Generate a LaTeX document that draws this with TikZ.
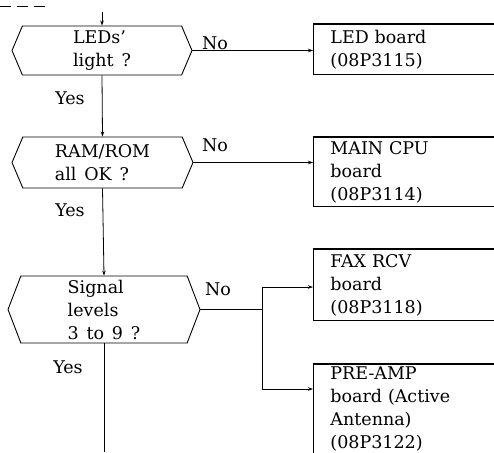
\documentclass[tikz,border=0pt]{standalone}
\usepackage{fontspec}
\setmainfont{DejaVu Serif}[WordSpace=1.4]
\usetikzlibrary{shapes.symbols,arrows.meta}
\begin{document}
\begin{tikzpicture}[x=1pt,y=-1pt,
  every node/.style={font=\fontsize{17.5}{23}\selectfont},
  hexbox/.style={draw, line width=0.9pt, signal, signal to=east and west, signal pointer angle=#1, align=left, inner sep=0pt},
  board/.style={draw, line width=0.9pt, anchor=north west, text width=200pt, inner xsep=17pt, inner ysep=0pt, align=left},
  conn/.style={line width=0.8pt},
  arr/.style={conn, -{Stealth[length=5pt,width=3.5pt]}},
  lbl/.style={inner sep=0pt},
  topline/.style={line width=2pt}
]
\clip (0,0) rectangle (494,452);

% decision hexagons
\node[hexbox=134, minimum width=180pt, minimum height=49pt] (h1) at (102,50.5) {LEDs'\\light ?};
\node[hexbox=134, minimum width=181pt, minimum height=51pt] (h2) at (102.5,162.5) {RAM/ROM\\all OK ?};
\node[hexbox=138, minimum width=192pt, minimum height=67pt] (h3) at (104,309.5) {Signal\\levels\\3 to 9 ?};

% boards
\node[board, minimum height=50pt] (b1) at (313,24) {LED board\\(08P3115)};
\node[board, minimum height=69pt] (b2) at (313,137) {MAIN CPU\\board\\(08P3114)};
\node[board, minimum height=71pt] (b3) at (313,249) {FAX RCV\\board\\(08P3118)};
\node[board, minimum height=90pt] (b4) at (313,364) {PRE-AMP\\board (Active\\Antenna)\\(08P3122)};
\foreach \b in {b1,b2,b3,b4} \draw[topline] (\b.north west) -- (\b.north east);

% labels
\node[lbl] (y1) at (70,98) {Yes};
\node[lbl] (y2) at (70,210) {Yes};
\node[lbl] (y3) at (68,367) {Yes};
\node[lbl] (n1) at (215,43) {No};
\node[lbl] (n2) at (215,145) {No};
\node[lbl] (n3) at (218,289) {No};

% connectors
\coordinate (d0) at (0,6);
\coordinate (d1) at (45,6);
\draw[conn, dash pattern=on 11pt off 6pt] (d0) -- (d1);
\coordinate (start) at (h1.north |- d1);
\draw[arr] ([yshift=-6pt]start) -- (h1.north);
\draw[arr] (h1.south) -- (h2.north);
\draw[arr] (h2.south) -- (h3.north);
\coordinate (end) at (104,452);
\draw[conn] (h3.south) -- (end);
\draw[arr] (h1.east) -- (h1.east -| b1.west);
\draw[arr] (h2.east) -- (h2.east -| b2.west);
\coordinate (br) at (262,309.5);
\draw[conn] (h3.east) -- (br);
\draw[arr] (br) |- ([yshift=-38pt]b3.north west);
\draw[arr] (br) |- ([yshift=-25pt]b4.north west);
\end{tikzpicture}
\end{document}
